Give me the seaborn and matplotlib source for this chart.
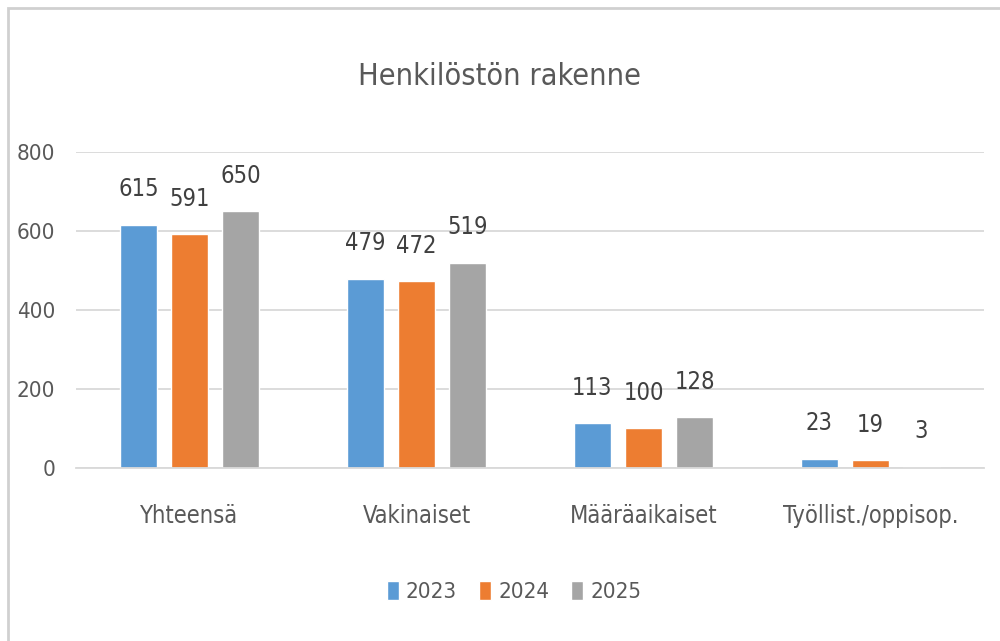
import pandas as pd
import numpy as np
import matplotlib.pyplot as plt
import seaborn as sns
from matplotlib.patches import Rectangle

categories = ["Yhteensä", "Vakinaiset", "Määräaikaiset", "Työllist./oppisop."]
years = ["2023", "2024", "2025"]
v2023 = [615, 479, 113, 23]
v2024 = [591, 472, 100, 19]
v2025 = [650, 519, 128, 3]
colors = ["#5B9BD5", "#ED7D31", "#A5A5A5"]

df = pd.DataFrame({
    "Kategoria": categories * 3,
    "Vuosi": [years[0]] * 4 + [years[1]] * 4 + [years[2]] * 4,
    "Arvo": v2023 + v2024 + v2025,
})

sns.set_theme(style="white")
plt.rcParams['font.family'] = ['DejaVu Sans']
plt.rcParams['font.stretch'] = 'condensed'
txt = "#595959"

fig = plt.figure(figsize=(10, 6.41), dpi=100)
ax = fig.add_axes([0.076, 0.27, 0.908, 0.493])

sns.barplot(data=df, x="Kategoria", y="Arvo", hue="Vuosi", palette=colors,
            width=0.675, gap=0.26, ax=ax, legend=True, saturation=1)

for cont in ax.containers:
    ax.bar_label(cont, padding=17, fontsize=17, color="#404040")

ax.set_ylim(0, 800)
ax.set_yticks([0, 200, 400, 600, 800])
ax.set_xlim(-0.5, 3.5)
ax.grid(axis="y", color="#D9D9D9", linewidth=1.3)
ax.set_axisbelow(True)
for s in ["top", "right", "left"]:
    ax.spines[s].set_visible(False)
ax.spines["bottom"].set_color("#D9D9D9")
ax.spines["bottom"].set_linewidth(1.3)
ax.tick_params(axis="y", length=0, labelsize=16, colors=txt, pad=15)
ax.tick_params(axis="x", length=0, labelsize=17, colors=txt, pad=26)
ax.set_xlabel("")
ax.set_ylabel("")

fig.suptitle("Henkilöstön rakenne", y=0.903, fontsize=22, color=txt)

ax.legend(loc="center", bbox_to_anchor=(0.514, 0.077), bbox_transform=fig.transFigure,
          ncol=3, frameon=False, fontsize=16, handlelength=0.55, handleheight=0.9,
          handletextpad=0.3, columnspacing=1.0, labelcolor=txt)

fig.patches.append(Rectangle((0.008, -0.02), 1.0, 1.007, transform=fig.transFigure,
                             fill=False, edgecolor="#D0D0D0", linewidth=2))

fig.savefig("out.png", dpi=100)
